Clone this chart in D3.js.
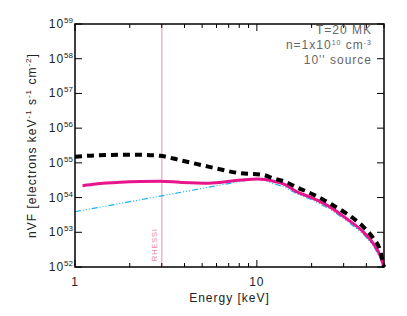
<!DOCTYPE html>
<html>
<head>
<meta charset="utf-8">
<script src="https://d3js.org/d3.v7.min.js"></script>
<style>
  body { margin: 0; background: #fff; }
  svg { font-family: "Liberation Sans", Arial, sans-serif; }
  svg text { letter-spacing: 1px; }
</style>
</head>
<body>
<div id="chart"></div>
<script>
// Thermal (black dashed) spectrum
const thermE = [1, 1.3, 1.77, 2.3, 2.93, 3.77, 5.4, 8.2, 10.6, 12.5, 14.2, 16.5, 20.4, 25.2, 31, 38.4, 43.6, 47.5, 50];
const thermV = [1.5e55, 1.65e55, 1.7e55, 1.7e55, 1.6e55, 1.2e55, 7.8e54, 5.0e54, 4.6e54, 3.5e54, 2.9e54, 2.0e54, 1.23e54, 6.8e53, 3.5e53, 1.45e53, 6.8e52, 3.1e52, 1.0e52];

// Recovered (magenta solid) spectrum
const recE = [1.1, 1.3, 1.77, 2.3, 2.93, 3.77, 5.4, 8.2, 10.1, 12.5, 14.2, 16.5, 20.4, 25.2, 31, 38.4, 43.6, 47.5, 50];
const recV = [2.2e54, 2.45e54, 2.75e54, 2.9e54, 2.95e54, 2.75e54, 2.6e54, 3.2e54, 3.4e54, 2.9e54, 2.4e54, 1.48e54, 9.5e53, 5.4e53, 2.5e53, 1.03e53, 4.8e52, 2.2e52, 1.0e52];

// Model (cyan dash-dot) spectrum
const modE = [1, 3.77, 10.1, 14.2, 16.5, 20.4, 25.2, 31, 38.4, 43.6, 47.5, 50];
const modV = [3.9e53, 1.4e54, 3.6e54, 2.0e54, 1.3e54, 8.3e53, 4.7e53, 2.2e53, 9.0e52, 4.2e52, 1.9e52, 1.0e52];

const xMajor = [1, 10];
const yExps = [52, 53, 54, 55, 56, 57, 58, 59];
const rhessiE = 3;
const notes = ["T=20 MK", "n=1x10^10 cm^-3", "10'' source"];

const width = 407, height = 316;
const margin = { left: 75, right: 23, top: 24, bottom: 49 };

const x = d3.scaleLog().domain([1, 50]).range([margin.left, width - margin.right]);
const y = d3.scaleLog().domain([1e52, 1e59]).range([height - margin.bottom, margin.top]);

const svg = d3.select("#chart").append("svg")
    .attr("width", width)
    .attr("height", height);

const x0 = x.range()[0], x1 = x.range()[1];
const y0 = y.range()[0], y1 = y.range()[1];

// RHESSI line
svg.append("line")
    .attr("x1", x(rhessiE)).attr("x2", x(rhessiE))
    .attr("y1", y1).attr("y2", y0)
    .attr("stroke", "#f5b5c3")
    .attr("stroke-width", 1.5);

svg.append("text")
    .attr("transform", `translate(${x(rhessiE) - 5},${y0 - 22}) rotate(-90)`)
    .attr("text-anchor", "middle")
    .attr("font-size", 8)
    .attr("fill", "#f08a9c")
    .style("letter-spacing", "0.5px")
    .text("RHESSI");

// curves
const line = d3.line().x(d => x(d[0])).y(d => y(d[1]));

svg.append("path")
    .datum(d3.zip(modE, modV))
    .attr("d", line)
    .attr("fill", "none")
    .attr("stroke", "#19b2ec")
    .attr("stroke-width", 1.2)
    .attr("stroke-dasharray", "6,2,1,2,1,2,1,2");

svg.append("path")
    .datum(d3.zip(recE, recV))
    .attr("d", line.curve(d3.curveMonotoneX))
    .attr("fill", "none")
    .attr("stroke", "#e8148c")
    .attr("stroke-width", 3);

svg.append("path")
    .datum(d3.zip(thermE, thermV))
    .attr("d", line.curve(d3.curveMonotoneX))
    .attr("fill", "none")
    .attr("stroke", "#000")
    .attr("stroke-width", 4)
    .attr("stroke-dasharray", "7,5");

// frame
svg.append("rect")
    .attr("x", x0).attr("y", y1)
    .attr("width", x1 - x0).attr("height", y0 - y1)
    .attr("fill", "none")
    .attr("stroke", "#000")
    .attr("stroke-width", 1.5);

// x ticks (major + minor, bottom and top, inward)
const xTicks = x.ticks();
const tg = svg.append("g").attr("stroke", "#000").attr("stroke-width", 1);
xTicks.forEach(v => {
    const major = xMajor.includes(v);
    const len = major ? 7 : 4;
    tg.append("line").attr("x1", x(v)).attr("x2", x(v)).attr("y1", y0).attr("y2", y0 - len);
    tg.append("line").attr("x1", x(v)).attr("x2", x(v)).attr("y1", y1).attr("y2", y1 + len);
});
yExps.forEach(e => {
    const py = y(Math.pow(10, e));
    tg.append("line").attr("x1", x0).attr("x2", x0 + 7).attr("y1", py).attr("y2", py);
    tg.append("line").attr("x1", x1).attr("x2", x1 - 7).attr("y1", py).attr("y2", py);
});

// x tick labels
svg.append("g")
  .selectAll("text")
  .data(xMajor)
  .join("text")
    .attr("x", d => x(d))
    .attr("y", y0 + 19)
    .attr("text-anchor", "middle")
    .attr("font-size", 12)
    .attr("fill", "#222")
    .text(d => d);

// y tick labels 10^n
const yl = svg.append("g")
  .selectAll("text")
  .data(yExps)
  .join("text")
    .attr("x", 73)
    .attr("y", d => y(Math.pow(10, d)) + 4)
    .attr("text-anchor", "end")
    .attr("font-size", 12)
    .attr("fill", "#222");
yl.append("tspan").text("10");
yl.append("tspan").attr("dy", -5).attr("font-size", 8).style("letter-spacing", "0px").text(d => d);

// axis titles
svg.append("text")
    .attr("x", (x0 + x1) / 2)
    .attr("y", y0 + 35)
    .attr("text-anchor", "middle")
    .attr("font-size", 12)
    .attr("fill", "#222")
    .text("Energy [keV]");

const yt = svg.append("text")
    .attr("transform", `translate(36,${(y0 + y1) / 2}) rotate(-90)`)
    .attr("text-anchor", "middle")
    .attr("font-size", 12)
    .attr("fill", "#222");
yt.append("tspan").text("nVF [electrons keV");
yt.append("tspan").attr("dy", -5).attr("font-size", 8).text("-1");
yt.append("tspan").attr("dy", 5).text(" s");
yt.append("tspan").attr("dy", -5).attr("font-size", 8).text("-1");
yt.append("tspan").attr("dy", 5).text(" cm");
yt.append("tspan").attr("dy", -5).attr("font-size", 8).text("-2");
yt.append("tspan").attr("dy", 5).text("]");

// annotation (top right)
const ng = svg.append("g")
    .attr("font-size", 12)
    .attr("fill", "#666")
    .attr("text-anchor", "end");
ng.append("text").attr("x", 372).attr("y", 34).text(notes[0]);
const n2 = ng.append("text").attr("x", 372).attr("y", 49);
n2.append("tspan").text("n=1x10");
n2.append("tspan").attr("dy", -4).attr("font-size", 7).text("10");
n2.append("tspan").attr("dy", 4).text(" cm");
n2.append("tspan").attr("dy", -4).attr("font-size", 7).text("-3");
ng.append("text").attr("x", 372).attr("y", 64).text(notes[2]);
</script>
</body>
</html>
